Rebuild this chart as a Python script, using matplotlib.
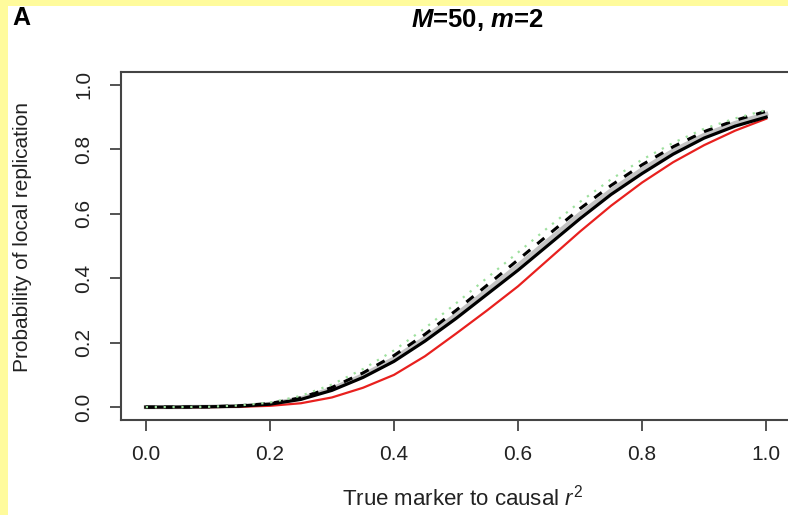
import matplotlib
matplotlib.use("Agg")
import matplotlib.pyplot as plt
from matplotlib.patches import Rectangle

plt.rcParams['font.family'] = ['Liberation Sans', 'DejaVu Sans']
plt.rcParams['mathtext.fontset'] = 'custom'
plt.rcParams['mathtext.rm'] = 'Liberation Sans'
plt.rcParams['mathtext.it'] = 'Liberation Sans:italic'
plt.rcParams['mathtext.bf'] = 'Liberation Sans:bold'
plt.rcParams['mathtext.bfit'] = 'Liberation Sans:italic:bold'

# true marker-to-causal r^2 grid
r2 = [0.0, 0.05, 0.10, 0.15, 0.20, 0.25, 0.30, 0.35, 0.40, 0.45, 0.50,
      0.55, 0.60, 0.65, 0.70, 0.75, 0.80, 0.85, 0.90, 0.95, 1.0]

# probability of local replication
p_black = [0, 0, 0.001, 0.003, 0.009, 0.024, 0.052, 0.092, 0.142, 0.205, 0.275,
           0.350, 0.425, 0.505, 0.585, 0.660, 0.725, 0.785, 0.835, 0.872, 0.900]
p_gray = [0, 0, 0.001, 0.003, 0.010, 0.027, 0.057, 0.099, 0.151, 0.215, 0.287,
          0.363, 0.440, 0.520, 0.600, 0.673, 0.738, 0.796, 0.845, 0.882, 0.910]
p_dashed = [0, 0, 0.001, 0.004, 0.011, 0.029, 0.061, 0.106, 0.160, 0.226, 0.300,
            0.378, 0.457, 0.537, 0.616, 0.688, 0.752, 0.808, 0.855, 0.890, 0.918]
p_green = [0, 0, 0.001, 0.005, 0.014, 0.035, 0.070, 0.118, 0.176, 0.245, 0.322,
           0.401, 0.480, 0.560, 0.637, 0.707, 0.768, 0.820, 0.864, 0.896, 0.922]
p_red = [0, 0, 0, 0.001, 0.004, 0.012, 0.030, 0.060, 0.100, 0.158, 0.228,
         0.300, 0.375, 0.460, 0.545, 0.625, 0.697, 0.760, 0.813, 0.858, 0.895]

ticks = [0.0, 0.2, 0.4, 0.6, 0.8, 1.0]
tick_labels = ["0.0", "0.2", "0.4", "0.6", "0.8", "1.0"]

W, H = 788, 515
fig = plt.figure(figsize=(W / 100, H / 100), dpi=100)
fig.patch.set_facecolor('#fffb9c')
# white page inside the yellow margin
fig.patches.append(Rectangle((8 / W, 0), 1, 1 - 6 / H, transform=fig.transFigure,
                             facecolor='white', edgecolor='none', zorder=-10))

ax = fig.add_axes([121 / W, 1 - 420 / H, 670 / W, 348 / H])
ax.set_facecolor('white')

ax.plot(r2, p_red, color='#e8201e', lw=1.6, zorder=3)
ax.plot(r2, p_gray, color='#c4c4c4', lw=3.0, zorder=2)
ax.plot(r2, p_black, color='black', lw=2.3, zorder=4)
ax.plot(r2, p_dashed, color='black', lw=2.2, ls=(0, (3, 3)), zorder=5)
ax.plot(r2, p_green, color='#9ee09e', lw=1.6, ls=(0, (1, 3)), zorder=6)

ax.set_xlim(-0.04, 1.04)
ax.set_ylim(-0.04, 1.04)
ax.set_xticks(ticks)
ax.set_xticklabels(tick_labels)
ax.set_yticks(ticks)
ax.set_yticklabels(tick_labels, rotation=90, va='center')
ax.tick_params(axis='both', direction='out', length=8, width=1.3,
               color='#444444', labelsize=15, labelcolor='#222222')
ax.tick_params(axis='x', pad=10)
ax.tick_params(axis='y', pad=12)
for s in ax.spines.values():
    s.set_linewidth(1.5)
    s.set_color('#444444')

fig.text(21 / W, 1 - 18 / H, "A", fontsize=18, fontweight='bold',
         ha='center', va='center')
fig.text(477 / W, 1 - 20 / H, r"$\mathbfit{M}$=50, $\mathbfit{m}$=2",
         fontsize=18.5, fontweight='bold', ha='center', va='center')
fig.text(462 / W, 1 - 498 / H, r"True marker to causal $r^2$", fontsize=16,
         ha='center', va='center', color='#222222')
fig.text(23 / W, 1 - 237 / H, "Probability of local replication", fontsize=15,
         rotation=90, ha='center', va='center', color='#222222')

fig.savefig("out.png", dpi=100)
